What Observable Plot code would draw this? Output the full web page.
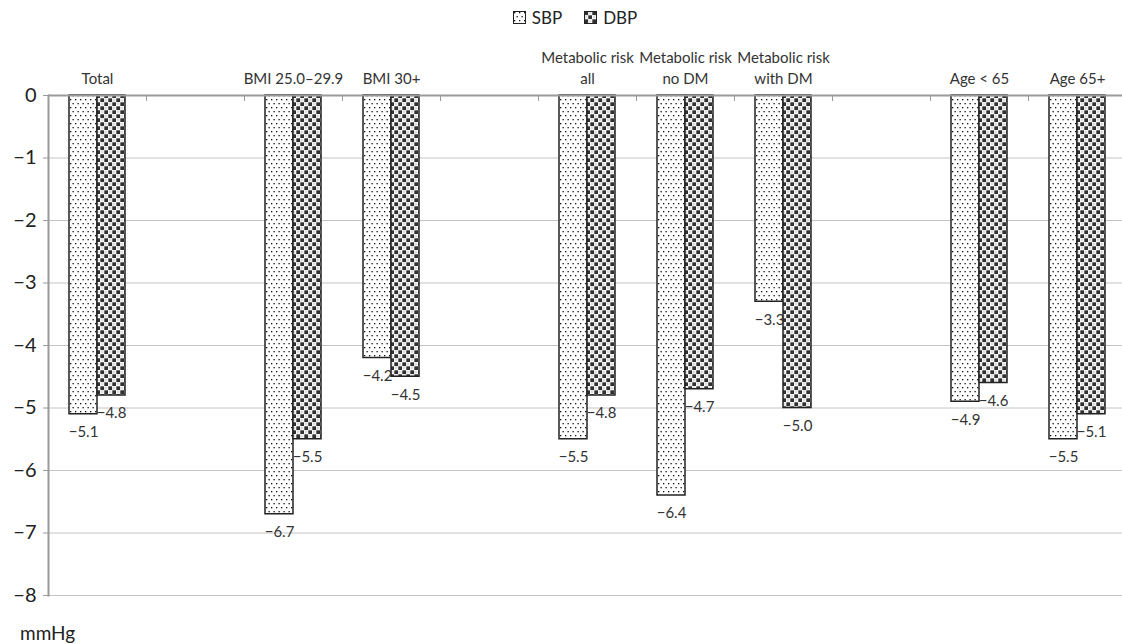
<!DOCTYPE html>
<html>
<head>
<meta charset="utf-8">
<script src="https://cdn.jsdelivr.net/npm/d3@7"></script>
<script src="https://cdn.jsdelivr.net/npm/@observablehq/plot@0.6"></script>
<style>
  body { margin: 0; background: #fff; font-family: Lato, "Open Sans", sans-serif; color: #222; }
  #legend { height: 34px; display: flex; align-items: center; justify-content: center; padding-left: 28px; font-size: 17px; gap: 22px; }
  #legend span { display: inline-flex; align-items: center; gap: 6px; }
  #caption { font-size: 19px; padding-left: 20px; margin-top: 6px; color: #222; }
</style>
</head>
<body>
<svg width="0" height="0" style="position:absolute">
  <defs>
    <pattern id="dots" width="5" height="8" patternUnits="userSpaceOnUse">
      <rect width="5" height="8" fill="#fff"/>
      <rect x="1" y="1" width="1.3" height="1.3" fill="#111"/>
      <rect x="3.5" y="5" width="1.3" height="1.3" fill="#111"/>
    </pattern>
    <pattern id="checks" width="8" height="8" patternUnits="userSpaceOnUse">
      <rect width="8" height="8" fill="#fff"/>
      <rect x="0.3" y="0.3" width="3.8" height="3.8" fill="#303030"/>
      <rect x="4.3" y="4.3" width="3.8" height="3.8" fill="#303030"/>
      <rect x="4.8" y="0.8" width="2.6" height="2.6" fill="#e0e0e0"/>
      <rect x="0.8" y="4.8" width="2.6" height="2.6" fill="#e0e0e0"/>
    </pattern>
  </defs>
</svg>
<div id="legend"></div>
<div id="chart"></div>
<div id="caption">mmHg</div>
<script>
// Slots along the x axis (whitespace keys are empty gaps, with no values)
const categories = ["Total", " ", "BMI 25.0–29.9", "BMI 30+", "  ",
  "Metabolic risk\nall", "Metabolic risk\nno DM", "Metabolic risk\nwith DM", "   ",
  "Age < 65", "Age 65+"];
const series = ["SBP", "DBP"];
const sbp = [-5.1, null, -6.7, -4.2, null, -5.5, -6.4, -3.3, null, -4.9, -5.5];
const dbp = [-4.8, null, -5.5, -4.5, null, -4.8, -4.7, -5.0, null, -4.6, -5.1];
const yTicks = [0, -1, -2, -3, -4, -5, -6, -7, -8];

const patterns = ["url(#dots)", "url(#checks)"];

const data = [];
categories.forEach((c, i) => {
  data.push({cat: c, series: "SBP", value: sbp[i]});
  data.push({cat: c, series: "DBP", value: dbp[i]});
});

// legend
const legend = document.getElementById("legend");
series.forEach((s, i) => {
  const span = document.createElement("span");
  span.innerHTML = `<svg width="13" height="13"><rect x="0.5" y="0.5" width="12" height="12" fill="${patterns[i]}" stroke="#222" stroke-width="1"/></svg>${s}`;
  legend.appendChild(span);
});

const marginTop = 61, plotH = 500, marginBottom = 20;

const chart = Plot.plot({
  width: 1122,
  height: marginTop + plotH + marginBottom,
  marginTop, marginBottom,
  marginLeft: 44, marginRight: 0,
  style: {fontFamily: "Lato, 'Open Sans', sans-serif", color: "#222", background: "#fff"},
  fx: {domain: categories, range: [44, 1130], padding: 0, label: null},
  x: {domain: series, paddingInner: 0, paddingOuter: 0.73, axis: null},
  y: {domain: [-8, 0], label: null},
  color: {domain: series, range: patterns},
  marks: [
    Plot.ruleY(yTicks.filter(d => d !== 0), {stroke: "#c4c4c4", strokeWidth: 1}),
    Plot.frame({anchor: "left", stroke: "#9a9a9a", strokeWidth: 1, insetBottom: plotH - 5}),
    Plot.frame({anchor: "left", stroke: "#9a9a9a", strokeWidth: 2, facetAnchor: "left"}),
    Plot.barY(data, {fx: "cat", x: "series", y: "value", fill: "series", stroke: "#222", strokeWidth: 1.5}),
    Plot.ruleY([0], {stroke: "#9a9a9a", strokeWidth: 2}),
    Plot.text(data, {fx: "cat", x: "series", y: "value", text: d => d.value == null ? "" : d3.format(".1f")(d.value), dy: 18, fontSize: 15, fill: "#333"}),
    Plot.axisY({ticks: yTicks, tickSize: 5, tickPadding: 7, fontSize: 20, stroke: "#9a9a9a", fill: "#222", tickFormat: d3.format("d"), label: null}),
    Plot.axisFx({anchor: "top", tickSize: 0, tickPadding: 12, fontSize: 15, lineHeight: 1.35, fill: "#333", label: null})
  ]
});
document.getElementById("chart").appendChild(chart);
</script>
</body>
</html>
